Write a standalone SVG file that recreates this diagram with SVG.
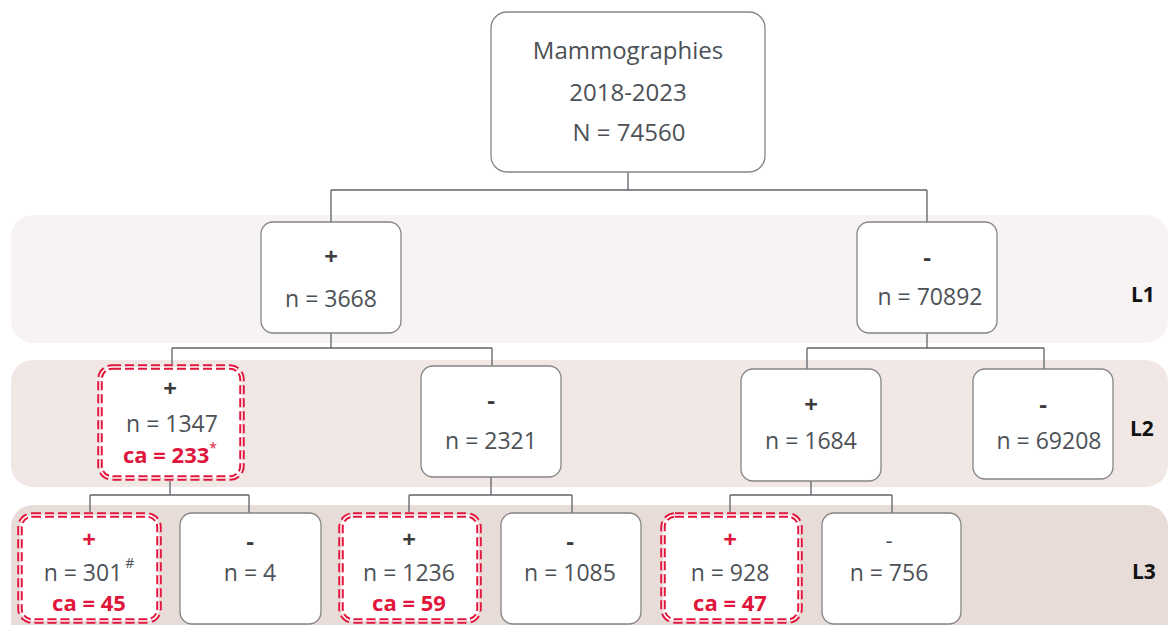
<svg xmlns="http://www.w3.org/2000/svg" width="1168" height="625" viewBox="0 0 1168 625">
  <style>
    .band1 { fill: #f7f3f2; }
    .band2 { fill: #f1e8e6; }
    .band3 { fill: #e7dcd8; }
    .box { fill: #ffffff; stroke: #858585; stroke-width: 1.3; }
    .hl { fill: #ffffff; stroke: #e0163c; stroke-width: 5.5; stroke-dasharray: 9 4; }
    .hl-gap { fill: none; stroke: #ffffff; stroke-width: 1.5; stroke-dasharray: 9 4; }
    .link { fill: none; stroke: #5f6368; stroke-width: 1.3; }
    text { font-family: "Open Sans", "Liberation Sans", sans-serif; text-anchor: middle; }
    .title { font-size: 24px; fill: #4d5156; }
    .t { font-size: 23px; fill: #4d5156; }
    .sign { font-size: 24px; font-weight: bold; fill: #3c3c3c; }
    .sign-red { font-size: 24px; font-weight: bold; fill: #e0163c; }
    .sign-thin { font-size: 22px; fill: #4d5156; }
    .ca { font-size: 22px; font-weight: bold; fill: #e0163c; }
    .sup { font-size: 14px; }
    .lvl { font-size: 21px; font-weight: bold; fill: #111111; text-anchor: start; }
  </style>

  <!-- level bands -->
  <g id="bands">
    <rect class="band1" x="11" y="215" width="1157" height="128" rx="22"/>
    <rect class="band2" x="11" y="360" width="1157" height="127" rx="22"/>
    <rect class="band3" x="11" y="505" width="1157" height="140" rx="22"/>
    <text class="lvl" x="1131" y="302">L1</text>
    <text class="lvl" x="1130" y="436">L2</text>
    <text class="lvl" x="1132" y="579">L3</text>
  </g>

  <!-- tree connectors -->
  <g id="connectors">
    <path class="link" d="M628 172 V190 M331 190 H927 M331 190 V222 M927 190 V222"/>
    <path class="link" d="M331 333 V348 M172 348 H492 M172 348 V364 M492 348 V366"/>
    <path class="link" d="M927 333 V348 M807 348 H1044 M807 348 V369 M1044 348 V369"/>
    <path class="link" d="M170 481 V495 M90 495 H249 M90 495 V512 M249 495 V513"/>
    <path class="link" d="M491 477 V495 M409 495 H572 M409 495 V512 M572 495 V513"/>
    <path class="link" d="M811 481 V495 M730 495 H892 M730 495 V512 M892 495 V513"/>
  </g>

  <!-- root -->
  <g id="root">
    <rect class="box" x="491" y="12" width="274" height="160" rx="16"/>
    <text class="title" x="628" y="59">Mammographies</text>
    <text class="title" x="628" y="101">2018-2023</text>
    <text class="title" x="629" y="141">N = 74560</text>
  </g>

  <!-- level 1 -->
  <g id="l1-pos">
    <rect class="box" x="261" y="222" width="140" height="111" rx="12"/>
    <text class="sign" x="331" y="265">+</text>
    <text class="t" x="331" y="307">n = 3668</text>
  </g>
  <g id="l1-neg">
    <rect class="box" x="857" y="222" width="140" height="111" rx="12"/>
    <text class="sign" x="927" y="266">-</text>
    <text class="t" x="930" y="305">n = 70892</text>
  </g>

  <!-- level 2 -->
  <g id="l2-pos-pos">
    <rect class="hl" x="100" y="367" width="142" height="111" rx="12"/>
    <rect class="hl-gap" x="100" y="367" width="142" height="111" rx="12"/>
    <text class="sign" x="170" y="397">+</text>
    <text class="t" x="172" y="432">n = 1347</text>
    <text class="ca" x="170" y="463">ca = 233<tspan class="sup" font-weight="normal" dy="-10">*</tspan></text>
  </g>
  <g id="l2-pos-neg">
    <rect class="box" x="421" y="366" width="140" height="111" rx="12"/>
    <text class="sign" x="491" y="409">-</text>
    <text class="t" x="491" y="449">n = 2321</text>
  </g>
  <g id="l2-neg-pos">
    <rect class="box" x="741" y="369" width="140" height="112" rx="12"/>
    <text class="sign" x="811" y="413">+</text>
    <text class="t" x="811" y="449">n = 1684</text>
  </g>
  <g id="l2-neg-neg">
    <rect class="box" x="973" y="369" width="140" height="110" rx="12"/>
    <text class="sign" x="1043" y="413">-</text>
    <text class="t" x="1049" y="449">n = 69208</text>
  </g>

  <!-- level 3 -->
  <g id="l3-a-pos">
    <rect class="hl" x="20" y="515" width="139" height="106" rx="12"/>
    <rect class="hl-gap" x="20" y="515" width="139" height="106" rx="12"/>
    <text class="sign-red" x="89" y="548">+</text>
    <text class="t" x="89" y="581">n = 301<tspan class="sup" dy="-13" dx="3">#</tspan></text>
    <text class="ca" x="89" y="611">ca = 45</text>
  </g>
  <g id="l3-a-neg">
    <rect class="box" x="180" y="513" width="141" height="111" rx="12"/>
    <text class="sign" x="250" y="550">-</text>
    <text class="t" x="250" y="581">n = 4</text>
  </g>
  <g id="l3-b-pos">
    <rect class="hl" x="341" y="515" width="138" height="106" rx="12"/>
    <rect class="hl-gap" x="341" y="515" width="138" height="106" rx="12"/>
    <text class="sign" x="409" y="548">+</text>
    <text class="t" x="409" y="581">n = 1236</text>
    <text class="ca" x="409" y="611">ca = 59</text>
  </g>
  <g id="l3-b-neg">
    <rect class="box" x="501" y="513" width="140" height="111" rx="12"/>
    <text class="sign" x="570" y="550">-</text>
    <text class="t" x="570" y="581">n = 1085</text>
  </g>
  <g id="l3-c-pos">
    <rect class="hl" x="663" y="515" width="137" height="106" rx="12"/>
    <rect class="hl-gap" x="663" y="515" width="137" height="106" rx="12"/>
    <text class="sign-red" x="730" y="548">+</text>
    <text class="t" x="730" y="581">n = 928</text>
    <text class="ca" x="730" y="611">ca = 47</text>
  </g>
  <g id="l3-c-neg">
    <rect class="box" x="822" y="513" width="139" height="111" rx="12"/>
    <text class="sign-thin" x="889" y="548">-</text>
    <text class="t" x="889" y="581">n = 756</text>
  </g>
</svg>
